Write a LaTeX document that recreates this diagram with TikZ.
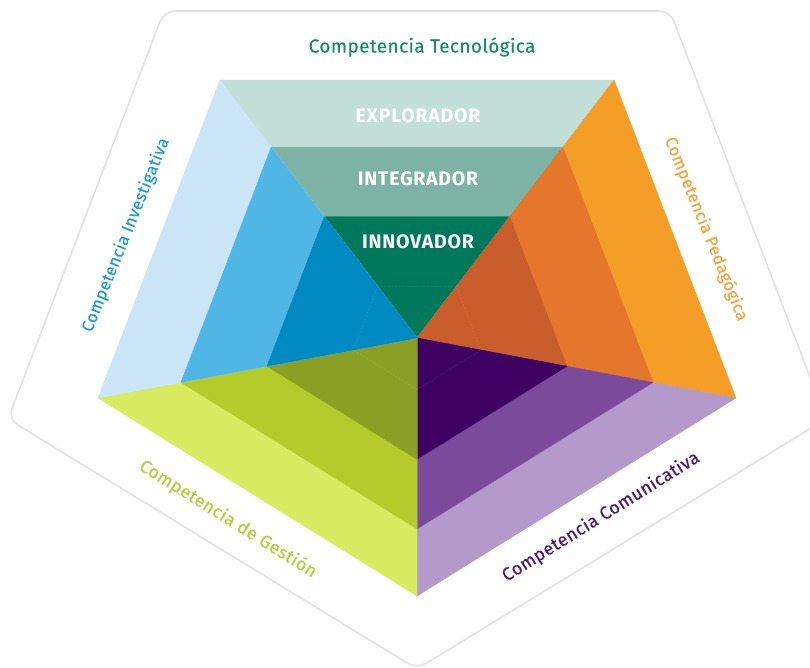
\documentclass[tikz,border=0pt]{standalone}
\usepackage{fontspec}
\setmainfont{Fira Sans}
\usetikzlibrary{calc}
\definecolor{tecL}{HTML}{C2E0D8}
\definecolor{tecM}{HTML}{7DB3A4}
\definecolor{tecD}{HTML}{00785B}
\definecolor{invL}{HTML}{C9E5F6}
\definecolor{invM}{HTML}{4FB6E5}
\definecolor{invD}{HTML}{008AC1}
\definecolor{pedL}{HTML}{F49D27}
\definecolor{pedM}{HTML}{E4772B}
\definecolor{pedD}{HTML}{C95D2B}
\definecolor{comL}{HTML}{B49ACB}
\definecolor{comM}{HTML}{7B4A9A}
\definecolor{comD}{HTML}{3E0061}
\definecolor{gesL}{HTML}{D8EC62}
\definecolor{gesM}{HTML}{B3CC2C}
\definecolor{gesD}{HTML}{8A9F24}
\definecolor{tecT}{HTML}{178B6D}
\definecolor{invT}{HTML}{1E9BD7}
\definecolor{pedT}{HTML}{F5A33B}
\definecolor{gesT}{HTML}{B5CF3A}
\definecolor{comT}{HTML}{4B1A74}
\definecolor{outl}{HTML}{E2E2E2}
\tikzset{
  outline/.style={draw=outl, line width=1.6pt, rounded corners=11pt},
  lab/.style={font=\fontsize{19}{20}\selectfont\addfontfeatures{LetterSpace=2,FakeBold=0.3}, inner sep=0pt},
  labsteep/.style={font=\fontsize{16.8}{18}\selectfont\addfontfeatures{LetterSpace=2,FakeBold=0.3}, inner sep=0pt},
  labflat/.style={font=\fontsize{18}{19}\selectfont\addfontfeatures{LetterSpace=2,FakeBold=0.3}, inner sep=0pt},
  bandlab/.style={font=\fontsize{19.5}{20}\selectfont\bfseries\addfontfeatures{LetterSpace=4}, text=white, inner sep=0pt},
  innerpent/.style={draw=white, draw opacity=0.1, line width=0.6pt, dash pattern=on 2pt off 1.5pt}
}
\begin{document}
\begin{tikzpicture}[x=1pt,y=-1pt]
\useasboundingbox (0,0) rectangle (810,667);
\fill[white] (0,0) rectangle (810,667);
\draw[outline] (164,11) -- (670,11) -- (826,419) -- (417,669) -- (8,419) -- cycle;
\coordinate (C) at (417,338);
\coordinate (V1) at (220,80);
\coordinate (V2) at (614,80);
\coordinate (V3) at (736,398);
\coordinate (V4) at (417,596);
\coordinate (V5) at (98,398);
\foreach \a/\b/\cl/\cm/\cd in {V1/V2/tecL/tecM/tecD, V2/V3/pedL/pedM/pedD, V3/V4/comL/comM/comD, V4/V5/gesL/gesM/gesD, V5/V1/invL/invM/invD} {
  \filldraw[fill=\cl, draw=\cl, line width=0.4pt, line join=round] (C) -- (\a) -- (\b) -- cycle;
  \filldraw[fill=\cm, draw=\cm, line width=0.4pt, line join=round] (C) -- ($(C)!0.74!(\a)$) -- ($(C)!0.74!(\b)$) -- cycle;
  \filldraw[fill=\cd, draw=\cd, line width=0.4pt, line join=round] (C) -- ($(C)!0.47!(\a)$) -- ($(C)!0.47!(\b)$) -- cycle;
}
\draw[innerpent] ($(C)!0.2!(V1)$) -- ($(C)!0.2!(V2)$) -- ($(C)!0.2!(V3)$) -- ($(C)!0.2!(V4)$) -- ($(C)!0.2!(V5)$) -- cycle;
\node[bandlab] (exp) at (418,116) {EXPLORADOR};
\node[bandlab] (int) at (418,179) {INTEGRADOR};
\node[bandlab] (inn) at (418,242) {INNOVADOR};
\node[lab, text=tecT] (tec) at (422,47) {Competencia Tecnológica};
\node[labsteep, text=invT, rotate=68] (inv) at (126,235) {Competencia Investigativa};
\node[labsteep, text=pedT, rotate=-68] (ped) at (706,229) {Competencia Pedagógica};
\node[labflat, text=gesT, rotate=-32] (ges) at (228,519) {Competencia de Gestión};
\node[labflat, text=comT, rotate=32] (com) at (601,517) {Competencia Comunicativa};
\end{tikzpicture}
\end{document}
